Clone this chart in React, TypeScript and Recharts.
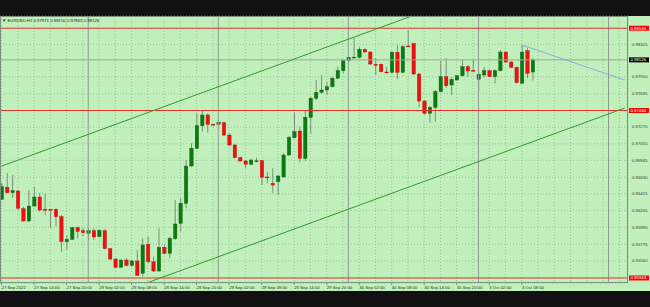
import { ComposedChart, Bar, XAxis, YAxis, CartesianGrid, ReferenceLine } from 'recharts';

// EURUSD H1, 27 Sep 2022 08:00 .. 3 Oct 2022 10:00
const opens = [
    0.96347, 0.96500, 0.96431, 0.96453, 0.96227, 0.96070, 0.96261, 0.96376, 0.96219, 0.96219,
    0.96219, 0.96125, 0.95806, 0.95837, 0.95985, 0.95946, 0.95913, 0.95946, 0.95870, 0.95946,
    0.95717, 0.95585, 0.95479, 0.95572, 0.95505, 0.95560, 0.95403, 0.95773, 0.95551, 0.95432,
    0.95734, 0.95658, 0.95844, 0.96041, 0.96296, 0.96772, 0.96998, 0.97286, 0.97423, 0.97304,
    0.97304, 0.97324, 0.97167, 0.97040, 0.96878, 0.96836, 0.96794, 0.96836, 0.96840, 0.96632,
    0.96551, 0.96571, 0.96632, 0.96912, 0.97133, 0.97218, 0.96870, 0.97393, 0.97636, 0.97712,
    0.97742, 0.97784, 0.97891, 0.97988, 0.98115, 0.98159, 0.98159, 0.98261, 0.98226, 0.98070,
    0.98070, 0.97971, 0.97967, 0.98223, 0.97967, 0.98303, 0.98337, 0.97946, 0.97601, 0.97444,
    0.97521, 0.97720, 0.97911, 0.97805, 0.97869, 0.97924, 0.98039, 0.97993, 0.97878, 0.97933,
    0.97988, 0.97911, 0.97988, 0.98226, 0.98099, 0.98031, 0.97827, 0.98243, 0.97971,
];
const highs = [
    0.96555, 0.96683, 0.96657, 0.96466, 0.96253, 0.96466, 0.96508, 0.96424, 0.96424, 0.96223,
    0.96232, 0.96147, 0.95891, 0.95997, 0.95997, 0.95977, 0.95977, 0.95977, 0.95964, 0.95964,
    0.95722, 0.95594, 0.95581, 0.95594, 0.95572, 0.95700, 0.95849, 0.95870, 0.95615, 0.95977,
    0.95764, 0.95870, 0.96338, 0.96360, 0.96848, 0.97062, 0.97444, 0.97486, 0.97444, 0.97317,
    0.97359, 0.97337, 0.97189, 0.97049, 0.96891, 0.96848, 0.96870, 0.96878, 0.96848, 0.96699,
    0.96743, 0.96657, 0.96934, 0.97155, 0.97452, 0.97273, 0.97486, 0.97656, 0.97869, 0.97933,
    0.97848, 0.97911, 0.98039, 0.98133, 0.98166, 0.98411, 0.98286, 0.98274, 0.98239, 0.98146,
    0.98082, 0.98039, 0.98243, 0.98316, 0.98316, 0.98507, 0.98345, 0.97955, 0.97614, 0.97537,
    0.97742, 0.98112, 0.98150, 0.97904, 0.97933, 0.98133, 0.98061, 0.98124, 0.97997, 0.98039,
    0.98006, 0.98006, 0.98252, 0.98239, 0.98108, 0.98039, 0.98316, 0.98274, 0.98150,
];
const lows = [
    0.96338, 0.96427, 0.96364, 0.96210, 0.96061, 0.96061, 0.96253, 0.96189, 0.96147, 0.95981,
    0.95997, 0.95678, 0.95700, 0.95828, 0.95849, 0.95879, 0.95828, 0.95828, 0.95862, 0.95709,
    0.95572, 0.95467, 0.95474, 0.95487, 0.95487, 0.95368, 0.95359, 0.95530, 0.95423, 0.95423,
    0.95645, 0.95594, 0.95828, 0.95934, 0.96232, 0.96763, 0.96990, 0.97210, 0.97197, 0.97295,
    0.97295, 0.97155, 0.97027, 0.96870, 0.96827, 0.96743, 0.96785, 0.96819, 0.96529, 0.96551,
    0.96424, 0.96402, 0.96623, 0.96899, 0.97125, 0.96819, 0.96836, 0.97180, 0.97614, 0.97691,
    0.97678, 0.97776, 0.97882, 0.97955, 0.98082, 0.98146, 0.98150, 0.98217, 0.98061, 0.97933,
    0.97967, 0.97955, 0.97955, 0.97878, 0.97955, 0.98294, 0.97933, 0.97521, 0.97432, 0.97324,
    0.97337, 0.97712, 0.97767, 0.97678, 0.97860, 0.97911, 0.97911, 0.97975, 0.97720, 0.97904,
    0.97904, 0.97827, 0.97980, 0.98090, 0.98019, 0.97827, 0.97818, 0.97891, 0.97863,
];
const closes = [
    0.96508, 0.96431, 0.96457, 0.96232, 0.96070, 0.96261, 0.96376, 0.96210, 0.96214, 0.96214,
    0.96125, 0.95806, 0.95837, 0.95985, 0.95939, 0.95921, 0.95946, 0.95866, 0.95951, 0.95717,
    0.95585, 0.95479, 0.95572, 0.95505, 0.95560, 0.95377, 0.95764, 0.95551, 0.95432, 0.95734,
    0.95658, 0.95849, 0.96032, 0.96296, 0.96772, 0.96998, 0.97286, 0.97423, 0.97304, 0.97299,
    0.97330, 0.97167, 0.97040, 0.96878, 0.96836, 0.96794, 0.96848, 0.96838, 0.96628, 0.96628,
    0.96529, 0.96644, 0.96912, 0.97138, 0.97210, 0.96870, 0.97393, 0.97636, 0.97712, 0.97742,
    0.97784, 0.97891, 0.97988, 0.98115, 0.98159, 0.98161, 0.98261, 0.98226, 0.98073, 0.98068,
    0.97975, 0.97969, 0.98223, 0.97967, 0.98294, 0.98301, 0.97946, 0.97601, 0.97444, 0.97521,
    0.97720, 0.97911, 0.97796, 0.97878, 0.97924, 0.98039, 0.97984, 0.97991, 0.97942, 0.97988,
    0.97911, 0.97988, 0.98226, 0.98099, 0.98031, 0.97835, 0.98226, 0.97955, 0.98126,
];

// one label every 6 bars, starting at bar 0
const timeLabels = [
    '27 Sep 2022', '27 Sep 14:00', '27 Sep 20:00', '28 Sep 02:00', '28 Sep 08:00', '28 Sep 14:00',
    '28 Sep 20:00', '29 Sep 02:00', '29 Sep 08:00', '29 Sep 14:00', '29 Sep 20:00', '30 Sep 02:00',
    '30 Sep 08:00', '30 Sep 14:00', '30 Sep 20:00', '3 Oct 02:00', '3 Oct 08:00',
];
const priceTicks = [
    0.95560, 0.95775, 0.95990, 0.96205, 0.96415, 0.96630, 0.96845, 0.97055, 0.97270, 0.97695,
    0.97910, 0.98325,
];
const levels = [0.98530, 0.97480, 0.95343];
const lastPrice = 0.98126;
const headerText = 'EURUSD,H1  0.97971 0.98150 0.97863 0.98126';
const daySeparators = [16, 40, 64, 88, 112];
const upperChannel = [{ x: 0, y: 0.96770 }, { x: 115, y: 0.99681 }];
const lowerChannel = [{ x: 0, y: 0.94601 }, { x: 115, y: 0.97512 }];
const blueTrend = [{ x: 96, y: 0.98316 }, { x: 115, y: 0.97869 }];

const candles = opens.map((o, i) => ({ i, o, h: highs[i], l: lows[i], c: closes[i] }));
const gridTicks = Array.from({ length: 39 }, (_, k) => k * 3);

const BG = '#c1f0bc';
const FONT = '"Liberation Sans", Arial, sans-serif';

function Candle(props: any) {
    const { x, y, width, height, payload } = props;
    const cx = x + width / 2;
    const top = Math.min(y, y + height);
    const h = Math.abs(height);
    const range = payload.h - payload.l || 1e-9;
    const up = payload.c >= payload.o;
    const bTop = top + ((payload.h - Math.max(payload.o, payload.c)) / range) * h;
    const bBot = top + ((payload.h - Math.min(payload.o, payload.c)) / range) * h;
    return (
        <g>
            <line x1={cx} x2={cx} y1={top} y2={top + h} stroke="#68786a" strokeWidth={0.8} />
            <rect
                x={cx - 1.7}
                y={bTop}
                width={3.4}
                height={Math.max(bBot - bTop, 0.9)}
                fill={up ? '#0c7a12' : '#f01010'}
                stroke={up ? '#0a5e0e' : '#c00808'}
                strokeWidth={0.4}
            />
        </g>
    );
}

function XTick(props: any) {
    const { x, payload } = props;
    const idx = payload.value / 6;
    if (payload.value % 6 !== 0 || !timeLabels[idx]) return null;
    return (
        <g>
            <line x1={x} x2={x} y1={283} y2={285} stroke="#555" strokeWidth={0.6} />
            <text x={x} y={289} fontSize={4.3} fill="#333" fontFamily={FONT}>
                {timeLabels[idx]}
            </text>
        </g>
    );
}

function YTick(props: any) {
    const { y, payload } = props;
    return (
        <text x={632} y={y + 1.5} fontSize={4.3} fill="#333" fontFamily={FONT}>
            {payload.value.toFixed(5)}
        </text>
    );
}

const priceTag = (value: number, bg: string) => (props: any) => {
    const { viewBox } = props;
    const x = viewBox.x + viewBox.width + 1;
    const y = viewBox.y;
    return (
        <g>
            <rect x={x} y={y - 2.5} width={20} height={5} fill={bg} />
            <text x={x + 1.5} y={y + 1.5} fontSize={4.3} fill="#fff" fontFamily={FONT}>
                {value.toFixed(5)}
            </text>
        </g>
    );
};

export default function App() {
    return (
        <div style={{ position: 'fixed', left: 0, top: 0, width: 650, height: 307, background: '#111' }}>
            <div style={{ position: 'absolute', left: 0, top: 16, width: 650, height: 275, background: BG }} />
            <div style={{ position: 'absolute', left: 0, top: 0 }}>
                <ComposedChart
                    width={650}
                    height={307}
                    data={candles}
                    margin={{ top: 16, right: 0, bottom: 16, left: 0 }}
                >
                    <CartesianGrid stroke="#8eab8e" strokeDasharray="1 2" strokeWidth={0.7} />
                    <XAxis
                        type="number"
                        dataKey="i"
                        domain={[-0.28, 115.6]}
                        ticks={gridTicks}
                        interval={0}
                        allowDataOverflow
                        height={8}
                        tick={XTick}
                        tickLine={false}
                        axisLine={false}
                    />
                    <YAxis
                        orientation="right"
                        type="number"
                        domain={[0.95279, 0.98686]}
                        ticks={priceTicks}
                        interval={0}
                        allowDataOverflow
                        width={22}
                        tick={YTick}
                        tickLine={false}
                        axisLine={false}
                    />
                    {daySeparators.map((d) => (
                        <ReferenceLine key={d} x={d} stroke="#8a9d8a" strokeWidth={1} ifOverflow="hidden" />
                    ))}
                    <ReferenceLine y={lastPrice} stroke="#9aa79a" strokeWidth={1} label={priceTag(lastPrice, '#000')} />
                    {levels.map((v) => (
                        <ReferenceLine key={v} y={v} stroke="#e4322c" strokeWidth={1} label={priceTag(v, '#f00')} />
                    ))}
                    <Bar dataKey={(d: any) => [d.l, d.h]} shape={Candle} barSize={4} isAnimationActive={false} />
                    <ReferenceLine segment={upperChannel} stroke="#2f9a2f" strokeWidth={1} ifOverflow="hidden" />
                    <ReferenceLine segment={lowerChannel} stroke="#2f9a2f" strokeWidth={1} ifOverflow="hidden" />
                    <ReferenceLine segment={blueTrend} stroke="#7b98e6" strokeWidth={0.8} ifOverflow="hidden" />
                </ComposedChart>
            </div>
            <div
                style={{
                    position: 'absolute',
                    left: 0,
                    top: 16,
                    width: 628,
                    height: 267,
                    boxSizing: 'border-box',
                    border: '1px solid #7d8f7d',
                    pointerEvents: 'none',
                }}
            />
            <svg width={200} height={30} style={{ position: 'absolute', left: 0, top: 0 }}>
                <text x={2} y={21.5} fontSize={4.3} fill="#222" fontFamily={FONT}>
                    {'\u25BC ' + headerText}
                </text>
            </svg>
        </div>
    );
}
